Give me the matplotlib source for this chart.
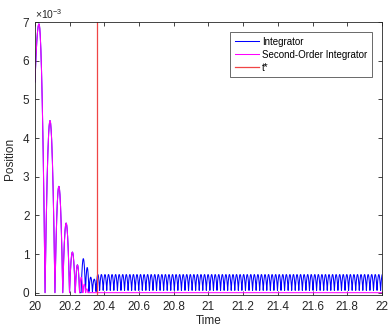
import numpy as np
import matplotlib.pyplot as plt
from matplotlib.ticker import FixedLocator, FuncFormatter

plt.rcParams['font.family'] = ['Liberation Sans', 'DejaVu Sans']
plt.rcParams['mathtext.fontset'] = 'custom'
plt.rcParams['mathtext.rm'] = 'Liberation Sans'

# values in units of 1e-3
# second-order integrator: first flight then bounces
mag_start = 5.45
mag_first_peak_t = 20.023
mag_first_peak = 6.95
mag_impacts = [20.058, 20.115, 20.160, 20.199, 20.232, 20.257, 20.276, 20.292, 20.305]
mag_peaks = [4.45, 2.75, 1.80, 1.05, 0.72, 0.40, 0.22, 0.10]

# integrator: transient bounces then steady chatter
blue_impacts = [20.266, 20.291, 20.311, 20.331, 20.352]
blue_peaks = [0.88, 0.65, 0.40, 0.35]
blue_floor = 0.03
steady_period = 0.0205
steady_peak = 0.47
steady_floor = 0.06

t_star = 20.357
t_end = 22.0

xticks = [20, 20.2, 20.4, 20.6, 20.8, 21, 21.2, 21.4, 21.6, 21.8, 22]
yticks = [0, 1, 2, 3, 4, 5, 6, 7]


def arches(impacts, peaks, floor, n=40):
    ts, hs = [], []
    for a, b, p in zip(impacts[:-1], impacts[1:], peaks):
        t = np.linspace(a, b, n)
        m = (a + b) / 2
        ts.append(t)
        hs.append(floor + (p - floor) * (1 - ((t - m) / ((b - a) / 2)) ** 2))
    return np.concatenate(ts), np.concatenate(hs)


# magenta curve
t_l = np.linspace(20, mag_first_peak_t, 30)
h_l = mag_first_peak - (mag_first_peak - mag_start) * ((t_l - mag_first_peak_t) / (mag_first_peak_t - 20)) ** 2
t_r = np.linspace(mag_first_peak_t, mag_impacts[0], 40)
h_r = mag_first_peak * (1 - ((t_r - mag_first_peak_t) / (mag_impacts[0] - mag_first_peak_t)) ** 2)
t_b, h_b = arches(mag_impacts, mag_peaks, 0.0)
t_mag = np.concatenate([t_l, t_r, t_b, [t_end]])
h_mag = np.concatenate([h_l, h_r, h_b, [0.0]])

# blue curve: same as magenta until it departs
keep = t_mag <= mag_impacts[5]
t_bt, h_bt = arches(blue_impacts, blue_peaks, blue_floor)
steady_imp = np.arange(blue_impacts[-1], t_end + steady_period, steady_period)
t_st, h_st = arches(list(steady_imp), [steady_peak] * (len(steady_imp) - 1), steady_floor, n=12)
t_blue = np.concatenate([t_mag[keep], [blue_impacts[0]], t_bt, t_st])
h_blue = np.concatenate([h_mag[keep], [0.0], h_bt, h_st])

fig = plt.figure(figsize=(3.88, 3.28), dpi=100)
ax = fig.add_axes([0.0902, 0.1006, 0.8943, 0.8323])

ax.plot(t_blue, h_blue * 1e-3, color='#0000ff', lw=0.75, label='Integrator')
ax.plot(t_mag, h_mag * 1e-3, color='#ff00ff', lw=0.75, label='Second-Order Integrator')
ax.axvline(t_star, color='#f04545', lw=0.9, label='t*')

ax.set_xlim(20, 22)
ax.set_ylim(-0.06e-3, 7e-3)
ax.xaxis.set_major_locator(FixedLocator(xticks))
ax.yaxis.set_major_locator(FixedLocator([v * 1e-3 for v in yticks]))
ax.xaxis.set_major_formatter(FuncFormatter(lambda v, p: f'{v:g}'))
ax.yaxis.set_major_formatter(FuncFormatter(lambda v, p: f'{v * 1e3:.0f}'))
ax.tick_params(direction='in', top=True, right=True, length=3, width=0.6,
               labelsize=8.5, colors='#262626')
ax.tick_params(axis='x', pad=4.5)
ax.tick_params(axis='y', pad=4)
for s in ax.spines.values():
    s.set_color('#262626')
    s.set_linewidth(0.6)

ax.text(0.0, 1.005, r'$\times10^{-3}$', transform=ax.transAxes, fontsize=7.5,
        color='#262626', ha='left', va='bottom')
ax.set_xlabel('Time', fontsize=8.5, color='#262626', labelpad=1.5)
ax.set_ylabel('Position', fontsize=8.5, color='#262626', labelpad=5)

leg = ax.legend(loc='upper right', bbox_to_anchor=(0.97, 0.962), fontsize=7,
                frameon=True, fancybox=False, edgecolor='#262626',
                handlelength=2.5, handletextpad=0.3, borderpad=0.45,
                labelspacing=0.3, borderaxespad=0)
leg.get_frame().set_linewidth(0.6)

fig.savefig('out.png', dpi=100)
